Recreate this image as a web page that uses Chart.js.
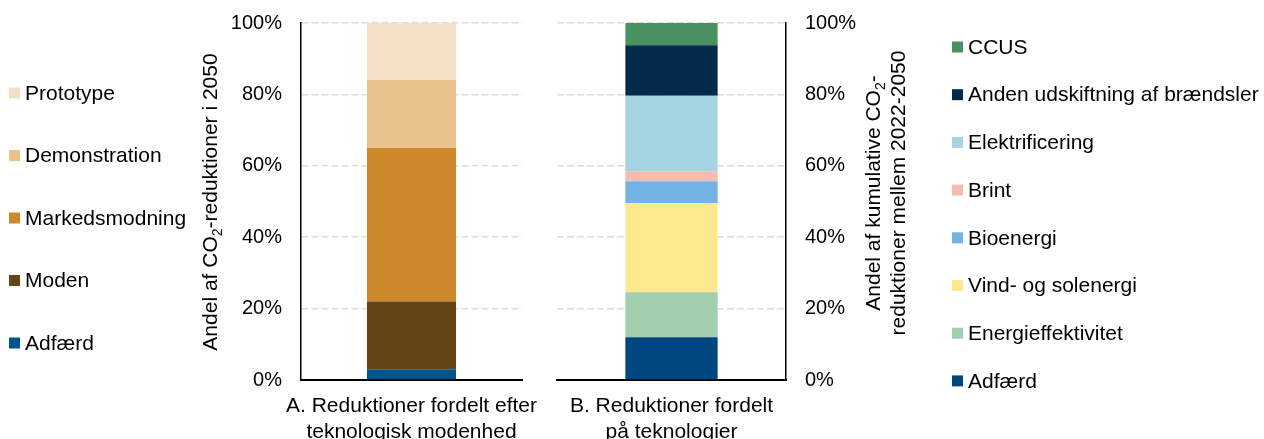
<!DOCTYPE html>
<html>
<head>
<meta charset="utf-8">
<script src="https://cdn.jsdelivr.net/npm/chart.js@4.4.1/dist/chart.umd.min.js"></script>
<style>
  html, body { margin: 0; padding: 0; background: #fff; }
  #wrap { position: relative; width: 1264px; height: 439px; overflow: hidden; }
  #chartA { position: absolute; left: 0; top: 0; }
  #chartB { position: absolute; left: 540px; top: 0; }
</style>
</head>
<body>
<div id="wrap">
  <canvas id="chartA" width="540" height="439"></canvas>
  <canvas id="chartB" width="724" height="439"></canvas>
</div>
<script>
// Data (share in %)
const modenhedLabels = ['Adfærd', 'Moden', 'Markedsmodning', 'Demonstration', 'Prototype'];
const modenhedValues = [3, 19, 43, 19, 16];
const modenhedColors = ['#00558a', '#654516', '#cc882b', '#e8c18c', '#f4e0c6'];

const teknologiLabels = ['Adfærd', 'Energieffektivitet', 'Vind- og solenergi', 'Bioenergi', 'Brint',
  'Elektrificering', 'Anden udskiftning af brændsler', 'CCUS'];
const teknologiValues = [12, 12.6, 25, 6.1, 2.8, 21.1, 14.2, 6.2];
const teknologiColors = ['#00467f', '#a2cfae', '#fde88e', '#72b3e3', '#f4bdaf', '#a5d5e2', '#022a4b', '#4a9162'];

const categoryA = ['A. Reduktioner fordelt efter', 'teknologisk modenhed'];
const categoryB = ['B. Reduktioner fordelt', 'på teknologier'];
const yTicks = [0, 20, 40, 60, 80, 100];

const titleA = [[{ t: 'Andel af CO' }, { t: '2', sub: true }, { t: '-reduktioner i 2050' }]];
const titleB = [[{ t: 'Andel af kumulative CO' }, { t: '2', sub: true }, { t: '-' }],
  [{ t: 'reduktioner mellem 2022-2050' }]];

const FONT = "'Liberation Sans', Arial, sans-serif";
Chart.defaults.font.family = FONT;
Chart.defaults.color = '#000';

// rotated axis title with subscript
function drawRotated(ctx, segs, bx, cy) {
  ctx.save();
  ctx.translate(bx, cy);
  ctx.rotate(-Math.PI / 2);
  ctx.textBaseline = 'alphabetic';
  ctx.textAlign = 'left';
  let total = 0;
  segs.forEach(s => {
    ctx.font = (s.sub ? '14px ' : '21px ') + FONT;
    s.w = ctx.measureText(s.t).width;
    total += s.w;
  });
  let x = -total / 2;
  segs.forEach(s => {
    ctx.font = (s.sub ? '14px ' : '21px ') + FONT;
    ctx.fillStyle = '#000';
    ctx.fillText(s.t, x, s.sub ? 5 : 0);
    x += s.w;
  });
  ctx.restore();
}

const overlay = {
  id: 'overlay',
  afterDraw(chart, args, opts) {
    const ctx = chart.ctx;
    ctx.save();
    ctx.font = '21px ' + FONT;
    ctx.textBaseline = 'middle';
    ctx.textAlign = 'left';
    chart.data.datasets.slice().reverse().forEach((d, i) => {
      const y = opts.legendY + i * opts.legendStep;
      ctx.fillStyle = d.backgroundColor;
      ctx.fillRect(opts.legendX, y - 5.5, 11, 11);
      ctx.fillStyle = '#000';
      ctx.fillText(d.label, opts.legendX + 16, y + 1);
    });
    ctx.restore();
    opts.title.forEach((segs, i) => drawRotated(ctx, segs, opts.titleX + i * 25, opts.titleY));
  }
};

function makeScales(pos, yWidth) {
  return {
    x: {
      stacked: true,
      grid: { display: false, drawTicks: false },
      border: { display: true, color: '#000', width: 2 },
      ticks: { font: { size: 21 }, padding: 14, maxRotation: 0, minRotation: 0, autoSkip: false },
      afterFit: s => { s.height = 59; s.paddingLeft = 0; s.paddingRight = 0; }
    },
    y: {
      stacked: true,
      position: pos,
      min: 0,
      max: 100,
      afterBuildTicks: s => { s.ticks = yTicks.map(v => ({ value: v })); },
      grid: { color: c => c.tick && c.tick.value === 0 ? 'rgba(0,0,0,0)' : '#dcdcdc', lineWidth: 1.5, drawTicks: false },
      border: { display: true, color: '#000', width: 1.5, dash: [7, 3] },
      ticks: { font: { size: 20 }, padding: 19, callback: v => v + '%' },
      afterFit: s => { s.width = yWidth; s.paddingTop = 0; s.paddingBottom = 0; }
    }
  };
}

function makeDatasets(labels, values, colors) {
  return labels.map((l, i) => ({
    label: l,
    data: [values[i]],
    backgroundColor: colors[i],
    borderWidth: 0,
    barPercentage: 1,
    categoryPercentage: 0.403
  }));
}

new Chart(document.getElementById('chartA'), {
  type: 'bar',
  data: { labels: [categoryA], datasets: makeDatasets(modenhedLabels, modenhedValues, modenhedColors) },
  options: {
    responsive: false,
    animation: false,
    devicePixelRatio: 1,
    layout: { padding: { left: 0, right: 18, top: 23, bottom: 0 } },
    scales: makeScales('left', 301),
    plugins: {
      legend: { display: false },
      tooltip: { enabled: false },
      overlay: { legendX: 9, legendY: 93, legendStep: 62.5, title: titleA, titleX: 217, titleY: 202 }
    }
  },
  plugins: [overlay]
});

new Chart(document.getElementById('chartB'), {
  type: 'bar',
  data: { labels: [categoryB], datasets: makeDatasets(teknologiLabels, teknologiValues, teknologiColors) },
  options: {
    responsive: false,
    animation: false,
    devicePixelRatio: 1,
    layout: { padding: { left: 17, right: 398, top: 23, bottom: 0 } },
    scales: makeScales('right', 80),
    plugins: {
      legend: { display: false },
      tooltip: { enabled: false },
      overlay: { legendX: 412, legendY: 47, legendStep: 47.7, title: titleB, titleX: 340, titleY: 193 }
    }
  },
  plugins: [overlay]
});
</script>
</body>
</html>
